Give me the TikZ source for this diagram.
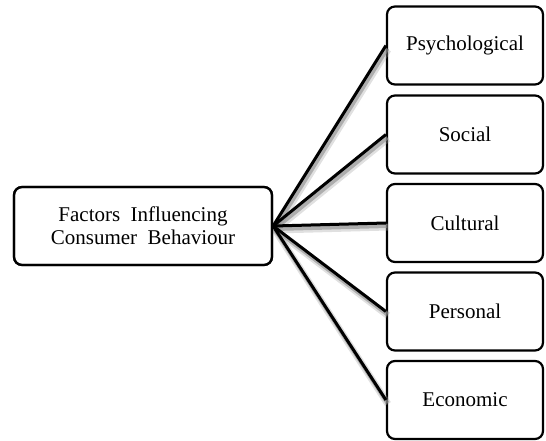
\documentclass[tikz,border=0pt]{standalone}
\usepackage{fontspec}
\setmainfont{Liberation Serif}
\begin{document}
\begin{tikzpicture}[x=1pt,y=-1pt,
  box/.style={draw=black, line width=2.2pt, rounded corners=8pt, fill=white,
    inner sep=0pt, font=\fontsize{21}{23}\selectfont, align=center},
  rbox/.style={box, minimum width=156pt, minimum height=78pt},
  lbox/.style={box, minimum width=258pt, minimum height=78pt},
  conn/.style={draw=black, line width=3pt},
  shade1/.style={draw=black!35, line width=7pt, opacity=0.35},
  shade2/.style={draw=black!45, line width=4pt, opacity=0.6}]
\useasboundingbox (0,0) rectangle (546,440);
\node[lbox] (L) at (143,226) {Factors\ \ Influencing\\Consumer\ \ Behaviour};
\node[rbox] (p1) at (465,45.5) {Psychological};
\node[rbox] (p2) at (465,134.5) {Social};
\node[rbox] (p3) at (465,223) {Cultural};
\node[rbox] (p4) at (465,311.5) {Personal};
\node[rbox] (p5) at (465,400) {Economic};
\foreach \t in {p1,p2,p3,p4,p5}{
  \draw[shade1] ([shift={(2,4)}]L.east) -- ([shift={(2,4)}]\t.west);
  \draw[shade2] ([shift={(1.5,3)}]L.east) -- ([shift={(1.5,3)}]\t.west);
}
\foreach \t in {p1,p2,p3,p4,p5}{
  \draw[conn] (L.east) -- (\t.west);
}
\node[lbox, fill=none] at (L) {\phantom{X}};
\end{tikzpicture}
\end{document}
